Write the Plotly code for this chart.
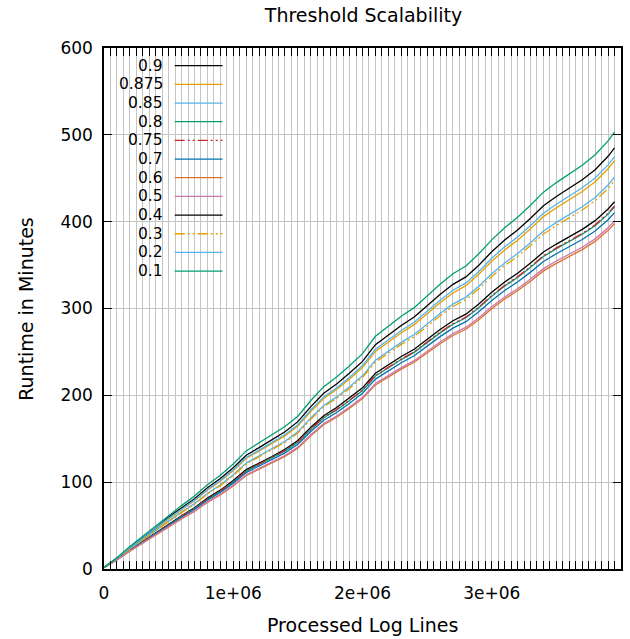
import plotly.graph_objects as go

x_lines = [0, 100000, 200000, 300000, 400000, 500000, 600000, 700000, 800000, 900000,
           1000000, 1100000, 1200000, 1300000, 1400000, 1500000, 1600000, 1700000, 1800000, 1900000,
           2000000, 2100000, 2200000, 2300000, 2400000, 2500000, 2600000, 2700000, 2800000, 2900000,
           3000000, 3100000, 3200000, 3300000, 3400000, 3500000, 3600000, 3700000, 3800000, 3900000, 3950000]

t_09 = [1.7, 10.9, 21.9, 32.0, 41.2, 52.1, 61.4, 70.6, 81.6, 90.8, 101.8, 114.4, 121.9, 129.5, 137.9, 148.0, 163.2, 176.6, 185.9, 196.8,
        208.6, 225.4, 235.5, 244.7, 253.1, 264.9, 275.8, 285.9, 293.5, 305.3, 318.7, 330.5, 340.6, 352.4, 365.0, 374.2, 382.7, 391.1, 401.2, 414.6, 423.0]
t_0875 = [1.9, 12.2, 24.3, 35.5, 45.8, 58.0, 68.3, 78.5, 90.7, 101.0, 113.1, 127.2, 135.6, 144.0, 153.3, 164.6, 181.4, 196.4, 206.6, 218.8,
          231.9, 250.6, 261.8, 272.1, 281.4, 294.5, 306.7, 317.9, 326.3, 339.4, 354.4, 367.5, 378.7, 391.8, 405.8, 416.1, 425.4, 434.8, 446.0, 461.0, 470.3]
t_085 = [1.8, 11.7, 23.3, 34.1, 44.0, 55.6, 65.5, 75.3, 87.0, 96.9, 108.5, 122.0, 130.1, 138.1, 147.1, 157.9, 174.0, 188.4, 198.2, 209.9,
         222.5, 240.4, 251.2, 261.0, 270.0, 282.6, 294.2, 305.0, 313.1, 325.6, 340.0, 352.5, 363.3, 375.8, 389.3, 399.2, 408.1, 417.1, 427.9, 442.2, 451.2]
t_08 = [1.7, 10.8, 21.6, 31.5, 40.6, 51.4, 60.5, 69.6, 80.4, 89.5, 100.3, 112.7, 120.2, 127.7, 136.0, 145.9, 160.8, 174.1, 183.2, 194.0,
        205.6, 222.2, 232.1, 241.2, 249.5, 261.1, 271.9, 281.9, 289.3, 300.9, 314.2, 325.8, 335.7, 347.4, 359.8, 368.9, 377.2, 385.5, 395.4, 408.7, 417.0]
t_075 = [1.7, 10.8, 21.6, 31.6, 40.7, 51.5, 60.7, 69.8, 80.6, 89.7, 100.6, 113.0, 120.5, 128.0, 136.3, 146.3, 161.2, 174.5, 183.7, 194.5,
         206.1, 222.7, 232.7, 241.8, 250.1, 261.8, 272.6, 282.5, 290.0, 301.7, 314.9, 326.6, 336.6, 348.2, 360.7, 369.8, 378.1, 386.4, 396.4, 409.7, 418.0]
t_07 = [1.6, 10.6, 21.2, 31.0, 40.0, 50.6, 59.6, 68.5, 79.2, 88.1, 98.7, 111.0, 118.3, 125.7, 133.8, 143.6, 158.3, 171.4, 180.3, 190.9,
        202.4, 218.7, 228.5, 237.5, 245.6, 257.0, 267.6, 277.4, 284.8, 296.2, 309.3, 320.7, 330.5, 341.9, 354.1, 363.1, 371.3, 379.4, 389.2, 402.3, 410.4]
t_06 = [1.6, 10.3, 20.6, 30.1, 38.8, 49.0, 57.7, 66.4, 76.7, 85.4, 95.7, 107.6, 114.7, 121.8, 129.7, 139.2, 153.5, 166.1, 174.8, 185.1,
        196.2, 212.0, 221.5, 230.2, 238.1, 249.2, 259.4, 268.9, 276.1, 287.1, 299.8, 310.9, 320.4, 331.4, 343.3, 352.0, 359.9, 367.8, 377.3, 390.0, 397.9]
t_05 = [1.6, 10.4, 20.7, 30.3, 39.1, 49.4, 58.2, 66.9, 77.3, 86.1, 96.4, 108.4, 115.6, 122.7, 130.7, 140.3, 154.6, 167.4, 176.1, 186.5,
        197.7, 213.6, 223.2, 231.9, 239.9, 251.1, 261.4, 271.0, 278.2, 289.3, 302.1, 313.2, 322.8, 333.9, 345.9, 354.7, 362.6, 370.6, 380.2, 392.9, 400.9]
t_04 = [1.9, 12.5, 25.1, 36.6, 47.2, 59.8, 70.4, 81.0, 93.5, 104.1, 116.6, 131.1, 139.8, 148.5, 158.1, 169.7, 187.0, 202.4, 213.0, 225.6,
        239.1, 258.4, 269.9, 280.5, 290.2, 303.7, 316.2, 327.8, 336.4, 349.9, 365.4, 378.9, 390.4, 403.9, 418.4, 429.0, 438.6, 448.3, 459.8, 475.3, 484.9]
t_03 = [1.8, 11.6, 23.1, 33.8, 43.6, 55.1, 64.9, 74.7, 86.2, 96.0, 107.6, 120.9, 128.9, 136.9, 145.8, 156.5, 172.5, 186.7, 196.5, 208.0,
        220.5, 238.3, 248.9, 258.7, 267.6, 280.0, 291.6, 302.3, 310.3, 322.7, 336.9, 349.4, 360.0, 372.5, 385.8, 395.6, 404.5, 413.4, 424.1, 438.3, 447.2]
t_02 = [1.9, 12.3, 24.5, 35.9, 46.3, 58.5, 68.9, 79.3, 91.6, 102.0, 114.2, 128.4, 136.9, 145.4, 154.8, 166.1, 183.1, 198.2, 208.6, 220.9,
        234.1, 253.0, 264.3, 274.7, 284.1, 297.4, 309.6, 321.0, 329.5, 342.7, 357.8, 371.0, 382.3, 395.5, 409.7, 420.1, 429.5, 439.0, 450.3, 465.4, 474.8]
t_01 = [2.0, 13.0, 26.0, 38.0, 49.0, 62.0, 73.0, 84.0, 97.0, 108.0, 121.0, 136.0, 145.0, 154.0, 164.0, 176.0, 194.0, 210.0, 221.0, 234.0,
        248.0, 268.0, 280.0, 291.0, 301.0, 315.0, 328.0, 340.0, 349.0, 363.0, 379.0, 393.0, 405.0, 419.0, 434.0, 445.0, 455.0, 465.0, 477.0, 493.0, 503.0]

series_names = ["0.9", "0.875", "0.85", "0.8", "0.75", "0.7", "0.6", "0.5", "0.4", "0.3", "0.2", "0.1"]
series_vals = [t_09, t_0875, t_085, t_08, t_075, t_07, t_06, t_05, t_04, t_03, t_02, t_01]
series_colors = ["#000000", "#E69F00", "#56B4E9", "#009E73", "#C8282D", "#0072B2",
                 "#E0702E", "#CC79A7", "#000000", "#E69F00", "#56B4E9", "#009E73"]
ddot = "10px,3px,2px,3px,2px,3px"
series_dash = ["solid", "solid", "solid", "solid", ddot, "solid",
               "solid", "solid", "solid", ddot, "solid", "solid"]

x_tickvals = [0, 1000000, 2000000, 3000000]
x_ticktext = ["0", "1e+06", "2e+06", "3e+06"]
y_tickvals = [0, 100, 200, 300, 400, 500, 600]

FONT = "DejaVu Sans"
W, H = 630, 639
L, R, T, B = 104, 7, 48, 70
pw, ph = W - L - R, H - T - B

def px(xp):
    return (xp - L) / pw

def py(yp):
    return (H - B - yp) / ph

fig = go.Figure()
for name, vals, col, dash in zip(series_names, series_vals, series_colors, series_dash):
    fig.add_trace(go.Scatter(x=x_lines, y=vals, mode="lines", name=name,
                             line=dict(color=col, width=1.3, dash=dash), showlegend=False))

shapes = [dict(type="rect", xref="paper", yref="paper", x0=0.002, x1=px(232), y0=py(281), y1=0.998,
               fillcolor="white", line=dict(width=0), layer="between")]
annotations = []
for i, (name, col, dash) in enumerate(zip(series_names, series_colors, series_dash)):
    yy = py(65.7 + i * 18.67)
    annotations.append(dict(xref="paper", yref="paper", x=px(165), y=yy, text=name, showarrow=False,
                            xanchor="right", yanchor="middle", font=dict(family=FONT, size=15.5, color="black")))
    shapes.append(dict(type="line", xref="paper", yref="paper", x0=px(175), x1=px(223), y0=yy, y1=yy,
                       line=dict(color=col, width=1.3, dash=dash), layer="above"))

annotations.append(dict(xref="paper", yref="paper", x=0.5, y=py(625), text="Processed Log Lines",
                        showarrow=False, xanchor="center", yanchor="middle",
                        font=dict(family=FONT, size=19, color="black")))
annotations.append(dict(xref="paper", yref="paper", x=px(25), y=0.5, text="Runtime in Minutes",
                        showarrow=False, xanchor="center", yanchor="middle", textangle=-90,
                        font=dict(family=FONT, size=19, color="black")))

fig.update_layout(
    width=W, height=H,
    margin=dict(l=L, r=R, t=T, b=B),
    paper_bgcolor="white", plot_bgcolor="white",
    font=dict(family=FONT, size=17, color="black"),
    title=dict(text="Threshold Scalability", x=363.5 / W, xanchor="center",
               y=1 - 15 / H, yanchor="middle", yref="container",
               font=dict(family=FONT, size=19, color="black")),
    shapes=shapes, annotations=annotations,
    xaxis=dict(range=[0, 4000000], tickvals=x_tickvals, ticktext=x_ticktext,
               showgrid=False, zeroline=False,
               ticks="inside", ticklen=8, tickwidth=1, tickcolor="black",
               showline=True, linecolor="black", linewidth=1.5, mirror="ticks",
               ticklabelstandoff=8,
               minor=dict(dtick=50000, tick0=0, showgrid=True, gridcolor="#c4c4c4", gridwidth=1,
                          ticks="inside", ticklen=8, tickcolor="black", tickwidth=1),
               tickfont=dict(family=FONT, size=17, color="black")),
    yaxis=dict(range=[0, 600], tickvals=y_tickvals, showgrid=True, gridcolor="#c4c4c4", gridwidth=1,
               zeroline=False, ticks="inside", ticklen=8, tickwidth=1, tickcolor="black",
               showline=True, linecolor="black", linewidth=1.5, mirror="ticks",
               ticklabelstandoff=6,
               tickfont=dict(family=FONT, size=17, color="black")),
)

fig.write_html("out.html")
